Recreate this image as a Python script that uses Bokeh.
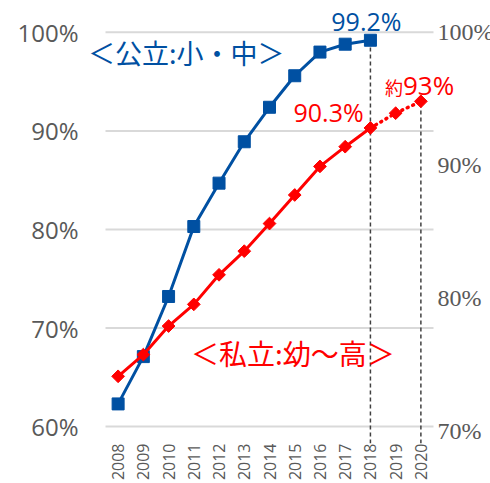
import numpy as np
from bokeh.plotting import figure
from bokeh.models import (FixedTicker, PrintfTickFormatter, Range1d, Label,
                          LabelSet, ColumnDataSource)
from bokeh.embed import file_html
from bokeh.resources import INLINE

years = list(range(2008, 2021))
pub_years = list(range(2008, 2019))
pub_vals = [62.3, 67.1, 73.2, 80.3, 84.7, 88.9, 92.4, 95.6, 98.0, 98.8, 99.2]
priv_years = list(range(2008, 2019))
priv_vals = [65.1, 67.3, 70.2, 72.4, 75.4, 77.8, 80.6, 83.5, 86.4, 88.4, 90.3]
proj_years = [2018, 2019, 2020]
proj_vals = [90.3, 91.8, 93.0]
left_ticks = [60, 70, 80, 90, 100]
right_ticks = [70, 80, 90, 100]

BLUE = "#0050A2"
RED = "#FF0000"
GREY = "#595959"
LATIN = "Open Sans"
CJK = "Noto Sans CJK JP"

# plot area geometry (pixels) – the frame is enlarged so annotations are not clipped
W, H = 490, 483
AX_L, AX_R, AX_T, AX_B = 105, 433, 32, 428       # visual chart area
FR_L, FR_T, FR_B = 84, 4, 445                      # frame left / top / bottom
x0, x1 = years[0] - 0.5, years[-1] + 0.5
px_per_x = (AX_R - AX_L) / (x1 - x0)
x_start = x0 - (AX_L - FR_L) / px_per_x
x_end = x1 + (W - AX_R) / px_per_x
y0, y1 = left_ticks[0], left_ticks[-1]
px_per_y = (AX_B - AX_T) / (y1 - y0)
y_start = y0 - (FR_B - AX_B) / px_per_y
y_end = y1 + (AX_T - FR_T) / px_per_y
# right scale: 100 at AX_T, 70 slightly below AX_B
r_px = (AX_B + 4 - AX_T) / (right_ticks[-1] - right_ticks[0])
r_start = right_ticks[0] - (FR_B - AX_B - 4) / r_px
r_end = right_ticks[-1] + (AX_T - FR_T) / r_px

p = figure(width=W, height=H, output_backend="svg", toolbar_location=None,
           x_range=Range1d(x_start, x_end), y_range=Range1d(y_start, y_end),
           min_border_left=FR_L, min_border_right=0, min_border_top=FR_T,
           min_border_bottom=H - FR_B)
p.extra_y_ranges = {"right": Range1d(r_start, r_end)}
p.outline_line_color = None
p.background_fill_color = "white"
p.border_fill_color = "white"

# axes
p.yaxis.ticker = FixedTicker(ticks=left_ticks)
p.yaxis.formatter = PrintfTickFormatter(format="%d%%")
p.yaxis.axis_line_color = None
p.yaxis.major_tick_line_color = None
p.yaxis.minor_tick_line_color = None
p.yaxis.major_tick_out = 0
p.yaxis.major_tick_in = 0
p.yaxis.minor_tick_out = 0
p.yaxis.major_label_standoff = 27 - (AX_L - FR_L)
p.yaxis.major_label_text_font = LATIN
p.yaxis.major_label_text_font_size = "24px"
p.yaxis.major_label_text_color = GREY

p.xaxis.ticker = FixedTicker(ticks=years)
p.xaxis.formatter = PrintfTickFormatter(format="%d")
p.xaxis.major_label_orientation = np.pi / 2
p.xaxis.axis_line_color = None
p.xaxis.major_tick_line_color = None
p.xaxis.minor_tick_line_color = None
p.xaxis.major_tick_out = 0
p.xaxis.major_tick_in = 0
p.xaxis.minor_tick_out = 0
p.xaxis.major_label_standoff = 0
p.xaxis.major_label_text_font = LATIN
p.xaxis.major_label_text_font_size = "16px"
p.xaxis.major_label_text_color = GREY

p.xgrid.grid_line_color = None
p.ygrid.grid_line_color = None

# horizontal gridlines only across the chart area
p.segment(x0=[x0] * len(left_ticks), y0=left_ticks, x1=[x1] * len(left_ticks),
          y1=left_ticks, line_color="#D9D9D9", line_width=2)

# right-side scale labels
rsrc = ColumnDataSource(dict(x=[x1] * len(right_ticks), y=right_ticks,
                             t=[f"{v}%" for v in right_ticks]))
p.add_layout(LabelSet(x="x", y="y", text="t", source=rsrc, y_range_name="right",
                      x_offset=4, text_align="left", text_baseline="middle",
                      text_font=LATIN, text_font_size="24px", text_color=GREY))

# dashed guide lines
p.segment(x0=[pub_years[-1], proj_years[-1]], y0=[y_start, y_start],
          x1=[pub_years[-1], proj_years[-1]], y1=[pub_vals[-1], proj_vals[-1]],
          line_color="#404040", line_width=1.5, line_dash="4 3")

# series
p.line(pub_years, pub_vals, line_color=BLUE, line_width=3)
p.scatter(pub_years, pub_vals, marker="square", size=12, fill_color=BLUE,
          line_color=BLUE)
p.line(priv_years, priv_vals, line_color=RED, line_width=3)
p.line(proj_years, proj_vals, line_color=RED, line_width=3.5, line_dash="1 5",
       line_cap="round")
p.scatter(priv_years, priv_vals, marker="square", angle=np.pi / 4, size=9,
          fill_color=RED, line_color=RED)
p.scatter(proj_years[1:], proj_vals[1:], marker="square", angle=np.pi / 4,
          size=9, fill_color=RED, line_color=RED)

# text annotations
p.add_layout(Label(x=2010.7, y=97.98, text="＜公立:小・中＞", text_align="center",
                   text_baseline="middle", text_font=CJK, text_font_size="27px",
                   text_color=BLUE))
p.add_layout(Label(x=2014.93, y=67.5, text="＜私立:幼～高＞", text_align="center",
                   text_baseline="middle", text_font=CJK, text_font_size="28px",
                   text_color=RED))
p.add_layout(Label(x=2017.84, y=101.2, text="99.2%", text_align="center",
                   text_baseline="middle", text_font=LATIN,
                   text_font_size="25px", text_color=BLUE))
p.add_layout(Label(x=2017.73, y=91.9, text="90.3%", text_align="right",
                   text_baseline="middle", text_font=LATIN,
                   text_font_size="25px", text_color=RED))
p.add_layout(Label(x=2019.29, y=94.5, text="約", text_align="right",
                   text_baseline="middle", text_font=CJK,
                   text_font_size="18px", text_color=RED))
p.add_layout(Label(x=2019.29, y=94.65, text="93%", text_align="left",
                   text_baseline="middle", text_font=LATIN,
                   text_font_size="26px", text_color=RED))

open("out.html", "w").write(file_html(p, INLINE))
